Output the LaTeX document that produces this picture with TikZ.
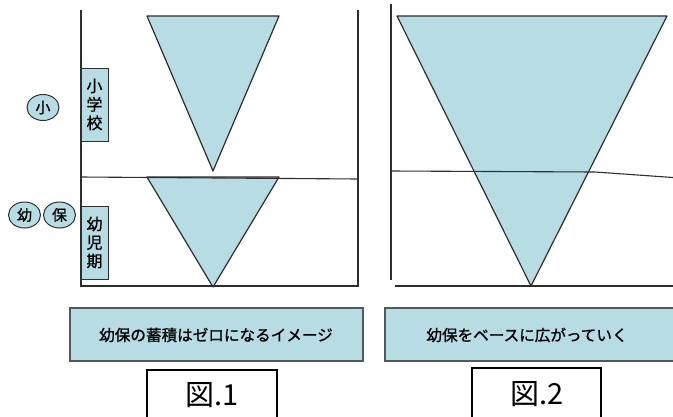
\documentclass[tikz,border=0pt]{standalone}
\usepackage{fontspec}
\newfontfamily\jp{Noto Sans CJK JP}
\newfontfamily\jpm{Noto Sans CJK JP}[FakeBold=0.9]
\usetikzlibrary{shapes.geometric}
\definecolor{lb}{HTML}{B7DCE3}
\definecolor{ln}{HTML}{2E2E2E}
\definecolor{bx}{HTML}{4F5A5C}
\tikzset{
  frame/.style={draw=ln, line width=1.8pt},
  tri/.style={draw=ln, fill=lb, line width=1.2pt, line join=round},
  vlabel/.style={draw=ln, fill=lb, line width=1pt, minimum width=27pt, minimum height=73pt, inner sep=0pt, align=center, font=\jpm\fontsize{16}{18.5}\selectfont},
  circ/.style={draw=ln, fill=lb, ellipse, line width=1pt, minimum width=32pt, minimum height=26pt, inner sep=0pt, font=\jpm\fontsize{15}{16}\selectfont},
  capbox/.style={draw=bx, fill=lb, line width=2pt},
  captext/.style={font=\jpm\fontsize{15.6}{17}\selectfont, inner sep=0pt},
  figlabel/.style={draw=black, line width=1.1pt, fill=white},
  figtext/.style={font=\jp\fontsize{29}{31}\selectfont, inner sep=0pt}
}
\begin{document}
\begin{tikzpicture}[x=1pt,y=-1pt]
\useasboundingbox (0,0) rectangle (673,416);
% figure 1
\draw[tri] (147,16) -- (279,16) -- (213,171) -- cycle;
\draw[tri] (147,177) -- (279,177) -- (213,287) -- cycle;
\coordinate (a1) at (81,10);
\coordinate (a2) at (81,286);
\coordinate (a3) at (358,286);
\coordinate (a4) at (358,10);
\coordinate (m1) at (81,177);
\coordinate (m2) at (358,179);
\draw[frame] (a1) -- (a2) -- (a3) -- (a4);
\draw[ln, line width=1.1pt] (m1) -- (m2);
\node[vlabel] (sho) at (94.5,104.5) {小\\学\\校};
\node[vlabel] (yoj) at (94.5,242.5) {幼\\児\\期};
\node[circ] (c1) at (43,107.5) {小};
\node[circ] (c2) at (24.5,215) {幼};
\node[circ] (c3) at (59.5,215) {保};
% figure 2
\coordinate (b1) at (391,4);
\coordinate (b2) at (391,280);
\coordinate (b3) at (395,286);
\coordinate (b4) at (673,286);
\coordinate (n1) at (391,171);
\coordinate (n2) at (595,172);
\coordinate (n3) at (673,177.5);
\draw[tri] (397,16) -- (667,16) -- (531,286) -- cycle;
\draw[frame] (b1) -- (b2);
\draw[frame] (b3) -- (b4);
\draw[ln, line width=1.1pt] (n1) -- (n2) -- (n3);
% captions
\draw[capbox] (70,308) rectangle (363,361);
\node[captext] (cap1) at (216,335) {幼保の蓄積はゼロになるイメージ};
\draw[capbox] (385,308) rectangle (678,361);
\node[captext] (cap2) at (527,335) {幼保をベースに広がっていく};
\draw[figlabel] (147,420) -- (147,370) -- (277,370) -- (277,420);
\node[figtext] (f1) at (212,395) {図.1};
\draw[figlabel] (472,420) -- (472,368) -- (601,368) -- (601,420);
\node[figtext] (f2) at (537,394) {図.2};
\end{tikzpicture}
\end{document}
